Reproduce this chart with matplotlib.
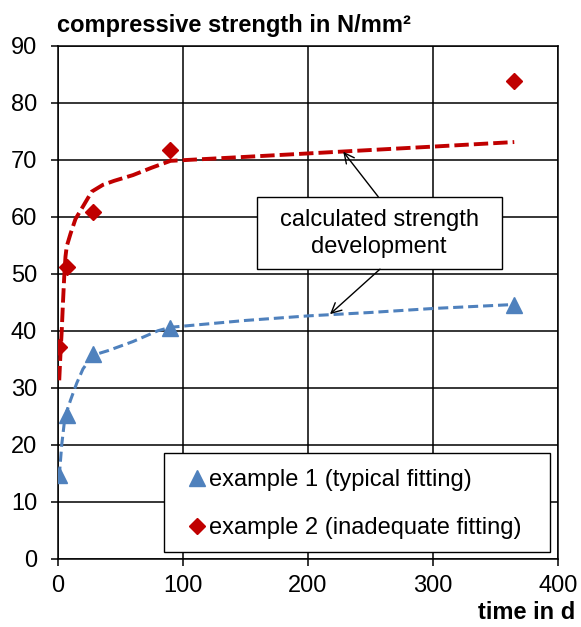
import matplotlib
matplotlib.use("Agg")
import matplotlib.pyplot as plt
from matplotlib.patches import Rectangle

plt.rcParams["font.family"] = ["Liberation Sans", "DejaVu Sans"]
plt.rcParams["font.size"] = 17

# measured strengths
days = [1, 7, 28, 90, 365]
ex1 = [14.7, 25.2, 35.9, 40.4, 44.5]
ex2 = [37.2, 51.2, 60.9, 71.7, 83.8]

# calculated strength development
fit1_t = [1, 3, 5, 7, 10, 15, 20, 28, 40, 60, 80, 90, 150, 200, 250, 300, 365]
fit1_v = [14.4, 20.0, 23.8, 25.8, 27.8, 30.8, 33.3, 35.7, 36.5, 38.1, 40.0, 40.6,
          41.8, 42.6, 43.2, 43.9, 44.6]
fit2_t = [1, 2, 3, 4, 5, 6, 7, 10, 14, 20, 27, 36, 45, 60, 75, 90, 150, 200, 250, 300, 365]
fit2_v = [31.3, 36.0, 40.0, 45.0, 49.5, 53.0, 54.8, 57.0, 59.6, 61.8, 64.4, 65.6,
          66.3, 67.3, 68.6, 69.8, 70.5, 71.1, 71.7, 72.3, 73.1]

BLUE = "#4F81BD"
RED = "#C00000"

fig = plt.figure(figsize=(5.81, 6.27), dpi=100)
ax = fig.add_axes([0.0998, 0.1089, 0.8606, 0.8182])

ax.plot(fit1_t, fit1_v, color=BLUE, lw=2.2, ls=(0, (3.3, 1.6)), zorder=3)
ax.plot(fit2_t, fit2_v, color=RED, lw=2.8, ls=(0, (3.7, 1.3)), zorder=3)
ax.plot(days, ex1, ls="none", marker="^", ms=12, color=BLUE, zorder=4,
        label="example 1 (typical fitting)")
ax.plot(days, ex2, ls="none", marker="D", ms=8.5, color=RED, zorder=4,
        label="example 2 (inadequate fitting)")

ax.set_xlim(0, 400)
ax.set_ylim(0, 90)
ax.set_xticks(range(0, 401, 100))
ax.set_yticks(range(0, 91, 10))
ax.grid(True, color="black", lw=1.1)
ax.set_axisbelow(True)
for s in ax.spines.values():
    s.set_color("black")
    s.set_linewidth(1.1)
ax.tick_params(axis="y", direction="out", length=5, width=1.1, pad=10)
ax.tick_params(axis="x", direction="out", length=5, width=1.1, pad=7)

# annotation box with arrows to both curves
ax.add_patch(Rectangle((159, 50.8), 196, 12.7, facecolor="white",
                       edgecolor="black", lw=1.0, zorder=5))
ax.text(257, 57.0, "calculated strength\ndevelopment", ha="center", va="center",
        zorder=6, linespacing=1.3)
arrow = dict(arrowstyle="->", color="black", lw=1.0, mutation_scale=18,
             shrinkA=0, shrinkB=0)
ax.annotate("", xy=(228.2, 71.4), xytext=(256.2, 63.5), arrowprops=arrow, zorder=6)
ax.annotate("", xy=(217.6, 42.9), xytext=(257.6, 50.8), arrowprops=arrow, zorder=6)

# legend with its own frame
ax.add_patch(Rectangle((0.2126, 0.0125), 0.7714, 0.193, transform=ax.transAxes,
                       facecolor="white", edgecolor="black", lw=1.0, zorder=5))
ax.legend(loc="upper left", bbox_to_anchor=(0.2634, 0.174), frameon=False,
          borderpad=0, borderaxespad=0, handlelength=0.62, handletextpad=0.2,
          labelspacing=1.1, numpoints=1, fontsize=17)

fig.text(0.0981, 0.9494, "compressive strength in N/mm²", fontweight="bold",
         ha="left", va="baseline")
fig.text(0.9897, 0.0128, "time in d", fontweight="bold", ha="right", va="baseline")

fig.savefig("out.png", dpi=100)
